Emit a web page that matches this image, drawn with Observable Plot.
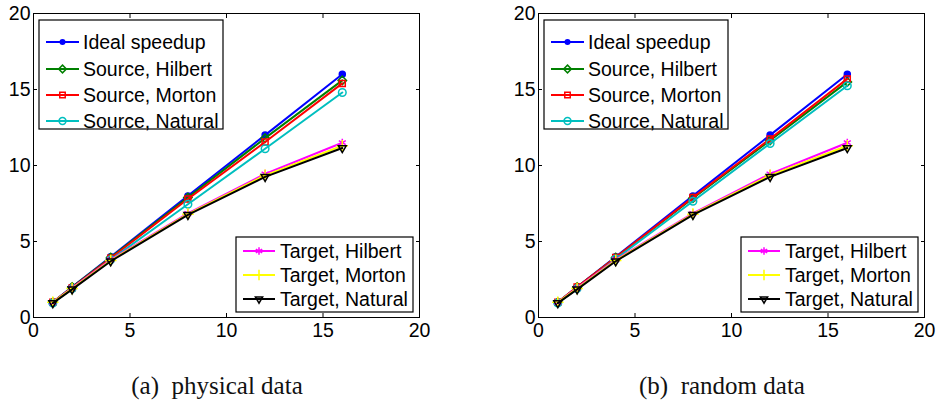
<!DOCTYPE html>
<html><head><meta charset="utf-8">
<script src="https://cdn.jsdelivr.net/npm/d3@7"></script>
<script src="https://cdn.jsdelivr.net/npm/@observablehq/plot@0.6"></script>
<style>
body{margin:0;background:#fff;width:936px;height:403px;overflow:hidden;position:relative;font-family:"Liberation Sans",Arial,sans-serif}
.panel{position:absolute;top:0}
.cap{position:absolute;top:372px;font-family:"Liberation Serif","Times New Roman",serif;font-size:25px;color:#111;transform:translateX(-50%);white-space:pre}
</style></head><body>
<div id="a" class="panel" style="left:0px"></div>
<div id="b" class="panel" style="left:505px"></div>
<div class="cap" style="left:217px">(a)  physical data</div>
<div class="cap" style="left:722px">(b)  random data</div>
<script>
const procs = [1, 2, 4, 8, 12, 16];
const seriesNames = ["Ideal speedup","Source, Hilbert","Source, Morton","Source, Natural","Target, Hilbert","Target, Morton","Target, Natural"];
const colors = ["#0000ff","#008000","#ff0000","#00bfbf","#ff00ff","#ffff00","#000000"];
const symbols = ["circle","diamond2","square2","circle","asterisk","plus","triangle2"];
// panel (a) physical data
const physIdeal   = [1, 2, 4, 8, 12, 16];
const physSrcHil  = [1, 2, 3.95, 7.9, 11.8, 15.6];
const physSrcMor  = [1, 1.95, 3.9, 7.8, 11.55, 15.4];
const physSrcNat  = [0.95, 1.9, 3.8, 7.45, 11.1, 14.8];
const physTgtHil  = [1, 1.95, 3.8, 6.85, 9.45, 11.5];
const physTgtMor  = [1, 1.9, 3.75, 6.8, 9.35, 11.3];
const physTgtNat  = [0.95, 1.85, 3.7, 6.75, 9.25, 11.15];
// panel (b) random data
const randIdeal   = [1, 2, 4, 8, 12, 16];
const randSrcHil  = [1, 2, 3.95, 7.85, 11.65, 15.5];
const randSrcMor  = [1, 2, 3.95, 7.9, 11.75, 15.7];
const randSrcNat  = [0.95, 1.9, 3.85, 7.65, 11.45, 15.25];
const randTgtHil  = [1, 1.95, 3.8, 6.85, 9.45, 11.5];
const randTgtMor  = [1, 1.9, 3.75, 6.8, 9.35, 11.3];
const randTgtNat  = [0.95, 1.85, 3.7, 6.75, 9.25, 11.15];
const axisTicks = [0, 5, 10, 15, 20];

const symTypes = {circle:d3.symbolCircle, diamond2:d3.symbolDiamond2, square2:d3.symbolSquare2, asterisk:d3.symbolAsterisk, plus:d3.symbolPlus, triangle2:d3.symbolTriangle2};

function rows(seriesArrays){
  const out = [];
  seriesArrays.forEach((arr, s) => arr.forEach((v, i) => out.push({s, name: seriesNames[s], x: procs[i], y: v})));
  return out;
}

function panel(el, seriesArrays, width){
  const data = rows(seriesArrays);
  const marks = [];
  const order = [0,1,2,3,4,5,6];
  for (const s of order){
    const d = data.filter(r => r.s === s);
    marks.push(Plot.line(d, {x:"x", y:"y", stroke: colors[s], strokeWidth: 2}));
    if (s === 0) marks.push(Plot.dot(d, {x:"x", y:"y", r:3, fill: colors[s], stroke: colors[s]}));
    else marks.push(Plot.dot(d, {x:"x", y:"y", r: 3.8, symbol: symbols[s], stroke: colors[s], strokeWidth: 1.5, fill:"none", rotate: s===6 ? 180 : 0}));
  }
  const p = Plot.plot({
    width, height: 350,
    marginLeft: 33, marginRight: width - 33 - 386, marginTop: 13, marginBottom: 33,
    style: {fontFamily: '"Liberation Sans", Arial, sans-serif', fontSize: "19.5px", color: "#000", background: "#fff"},
    x: {domain:[0,20], ticks: axisTicks, label: null},
    y: {domain:[0,20], ticks: axisTicks, label: null},
    marks: [
      Plot.frame({stroke:"#000", strokeWidth: 1}),
      Plot.axisX(axisTicks, {anchor:"bottom", tickSize:-4, tickPadding: 10, fontSize: 19.5, label:null}),
      Plot.axisX(axisTicks, {anchor:"top", tickSize:-4, tickFormat: () => "", label:null}),
      Plot.axisY(axisTicks, {anchor:"left", tickSize:-4, tickPadding: 7, fontSize: 19.5, label:null}),
      Plot.axisY(axisTicks, {anchor:"right", tickSize:-4, tickFormat: () => "", label:null}),
      ...marks
    ]
  });
  el.appendChild(p);
  const svg = d3.select(p);
  const fx = 33, fy = 13;
  function legend(x0, y0, w, h, idx, rowY, lx0, lx1, tx){
    const g = svg.append("g").attr("transform", `translate(${fx + x0},${fy + y0})`).attr("text-anchor","start");
    g.append("rect").attr("width", w).attr("height", h).attr("fill","#fff").attr("stroke","#000").attr("stroke-width",1.2);
    idx.forEach((s, k) => {
      const y = rowY[k];
      g.append("line").attr("x1", lx0).attr("x2", lx1).attr("y1", y).attr("y2", y).attr("stroke", colors[s]).attr("stroke-width", 2);
      const mx = (lx0 + lx1) / 2;
      if (s === 0) g.append("circle").attr("cx", mx).attr("cy", y).attr("r", 3).attr("fill", colors[s]);
      else g.append("path").attr("d", d3.symbol(symTypes[symbols[s]], Math.PI*12)()).attr("transform", `translate(${mx},${y}) rotate(${s===6?180:0})`).attr("fill","none").attr("stroke", colors[s]).attr("stroke-width",1.5);
      g.append("text").attr("x", tx).attr("y", y).attr("dy","0.35em").attr("text-anchor","start").attr("font-size","19.5px").attr("fill","#000").text(seriesNames[s]);
    });
  }
  legend(6, 7, 184, 109, [0,1,2,3], [22, 49, 75, 101], 7, 40, 44);
  legend(203, 224, 177, 75, [4,5,6], [14, 38, 62], 7, 39, 44);
}
panel(document.getElementById("a"), [physIdeal, physSrcHil, physSrcMor, physSrcNat, physTgtHil, physTgtMor, physTgtNat], 440);
panel(document.getElementById("b"), [randIdeal, randSrcHil, randSrcMor, randSrcNat, randTgtHil, randTgtMor, randTgtNat], 431);
</script>
</body></html>
